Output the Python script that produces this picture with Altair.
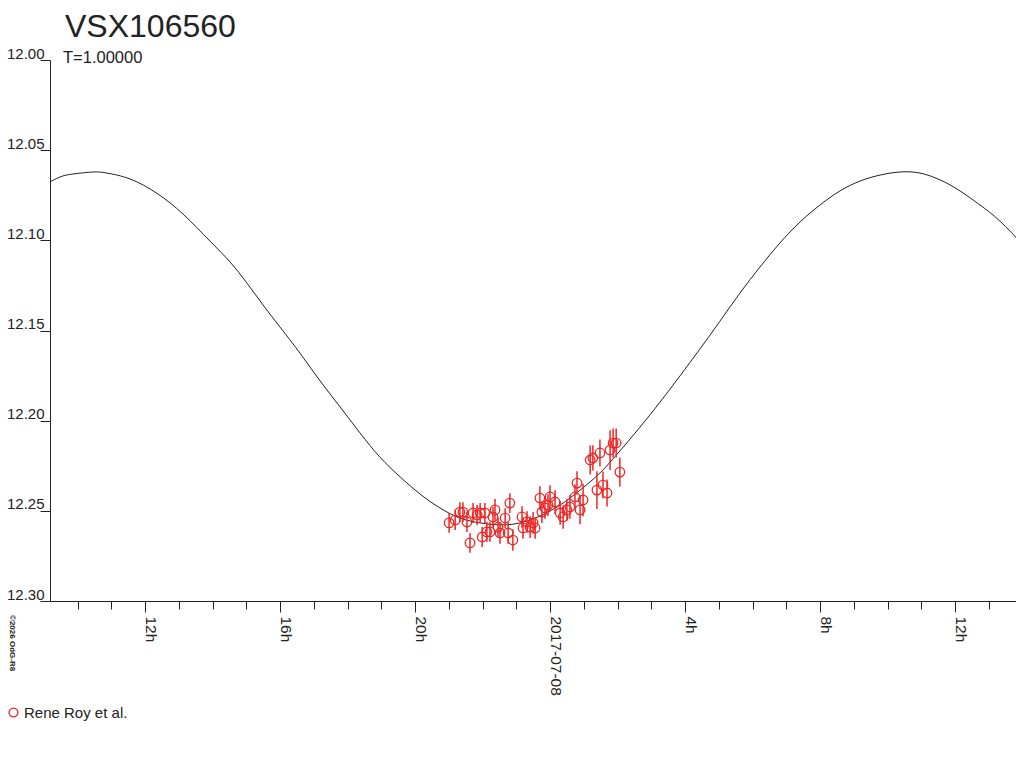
import altair as alt
import pandas as pd

FONT = "Liberation Sans, Arial, Helvetica, sans-serif"
RED = "#f02424"
INK = "#222222"

# model light curve (hours since 2017-07-07 00:00, magnitude)
curve_hour = [9.07, 9.48, 9.87, 10.46, 10.87, 11.56, 12.36, 13.13, 13.93, 14.52,
              15.02, 15.50, 16.00, 16.59, 17.19, 17.78, 18.37, 18.96, 19.56, 20.15,
              20.74, 21.33, 21.93, 22.52, 23.11, 23.70, 24.30, 24.89, 25.48, 26.07,
              26.67, 27.26, 27.85, 28.44, 29.04, 29.63, 30.22, 30.81, 31.41, 32.00,
              32.59, 33.19, 33.78, 34.37, 34.96, 35.56, 36.15, 36.74, 37.33, 38.04]
curve_mag = [12.0688, 12.0649, 12.0632, 12.0621, 12.0627, 12.0660, 12.0740, 12.0855, 12.1005, 12.1120,
             12.1237, 12.1359, 12.1481, 12.1625, 12.1780, 12.1924, 12.2068, 12.2202, 12.2312, 12.2407,
             12.2484, 12.2540, 12.2567, 12.2578, 12.2567, 12.2529, 12.2468, 12.2385, 12.2290, 12.2168,
             12.2035, 12.1897, 12.1752, 12.1603, 12.1447, 12.1292, 12.1148, 12.1015, 12.0898, 12.0804,
             12.0726, 12.0671, 12.0638, 12.0621, 12.0627, 12.0665, 12.0726, 12.0804, 12.0893, 12.1031]

# observations
obs_hour = [21.01, 21.19, 21.33, 21.42, 21.54, 21.63, 21.72, 21.84, 21.93, 21.99,
            22.07, 22.13, 22.22, 22.31, 22.37, 22.46, 22.52, 22.67, 22.76, 22.81,
            22.90, 23.17, 23.20, 23.32, 23.41, 23.50, 23.56, 23.70, 23.76, 23.85,
            23.94, 24.00, 24.15, 24.30, 24.39, 24.50, 24.59, 24.74, 24.80, 24.89,
            24.98, 25.19, 25.27, 25.39, 25.48, 25.57, 25.69, 25.78, 25.87, 25.96,
            26.07]
obs_mag = [12.2567, 12.2551, 12.2507, 12.2507, 12.2562, 12.2678, 12.2512, 12.2523, 12.2512, 12.2645,
           12.2512, 12.2617, 12.2617, 12.2534, 12.2495, 12.2590, 12.2623, 12.2540, 12.2623, 12.2457,
           12.2662, 12.2534, 12.2595, 12.2562, 12.2590, 12.2567, 12.2595, 12.2429, 12.2507, 12.2484,
           12.2468, 12.2423, 12.2451, 12.2512, 12.2534, 12.2495, 12.2479, 12.2423, 12.2346, 12.2495,
           12.2440, 12.2218, 12.2207, 12.2385, 12.2179, 12.2357, 12.2401, 12.2163, 12.2124, 12.2124,
           12.2285]
obs_err = [0.0055, 0.0055, 0.0055, 0.0055, 0.0055, 0.0055, 0.0055, 0.0055, 0.0055, 0.0055,
           0.0055, 0.0055, 0.0055, 0.0055, 0.0060, 0.0055, 0.0060, 0.0055, 0.0060, 0.0055,
           0.0060, 0.0060, 0.0060, 0.0060, 0.0060, 0.0060, 0.0060, 0.0065, 0.0060, 0.0060,
           0.0060, 0.0065, 0.0065, 0.0065, 0.0065, 0.0060, 0.0065, 0.0070, 0.0065, 0.0080,
           0.0090, 0.0080, 0.0070, 0.0105, 0.0075, 0.0075, 0.0075, 0.0110, 0.0080, 0.0080,
           0.0080]
observer = "Rene Roy et al."

star_name = "VSX106560"
period_text = "T=1.00000"
copyright_text = "\u00a92026 OdG-R8"
date_label = "2017-07-08"
y_ticks = [12.00, 12.05, 12.10, 12.15, 12.20, 12.25, 12.30]
x_ticks = list(range(10, 38))

curve_df = pd.DataFrame({"hour": curve_hour, "mag": curve_mag})
obs_df = pd.DataFrame({"hour": obs_hour, "mag": obs_mag, "err": obs_err})
obs_df["observer"] = observer
obs_df["lo"] = obs_df["mag"] - obs_df["err"]
obs_df["hi"] = obs_df["mag"] + obs_df["err"]

x_scale = alt.Scale(domain=[9.185, 37.807], nice=False, zero=False)
y_scale = alt.Scale(domain=[12.0, 12.3], reverse=True, nice=False, zero=False)

x_axis = alt.Axis(
    values=x_ticks, title=None, grid=False,
    tickSize={"condition": {"test": "datum.value % 4 === 0", "value": 11}, "value": 8},
    labelExpr=("datum.value % 4 === 0 ? (datum.value === 24 ? '" + date_label +
               "' : (datum.value % 24) + 'h') : ''"),
    labelAngle=90, labelAlign="left", labelBaseline="alphabetic", labelPadding=4,
    labelFlush=False, labelOverlap=False, labelFontSize=15.5,
)
y_axis = alt.Axis(
    values=y_ticks, format=".2f", title=None, grid=False, tickSize=10,
    labelPadding=-4, labelBaseline="alphabetic", labelOffset=-2, labelFontSize=15,
    labelOverlap=False, labelFlush=False,
)

x_enc = alt.X("hour:Q", scale=x_scale, axis=x_axis)
y_enc = alt.Y("mag:Q", scale=y_scale, axis=y_axis)

curve = alt.Chart(curve_df).mark_line(
    color=INK, strokeWidth=1, clip=True, interpolate="natural"
).encode(x=x_enc, y=y_enc)

bars = alt.Chart(obs_df).mark_rule(color=RED, strokeWidth=1.5).encode(
    x=alt.X("hour:Q", scale=x_scale, axis=x_axis),
    y=alt.Y("lo:Q", scale=y_scale, axis=y_axis),
    y2="hi:Q",
)

points = alt.Chart(obs_df).mark_point(
    shape="circle", filled=False, size=90, strokeWidth=1.3, opacity=1
).encode(
    x=x_enc, y=y_enc,
    color=alt.Color(
        "observer:N", scale=alt.Scale(range=[RED]),
        legend=alt.Legend(
            title=None, orient="none", legendX=-44, legendY=645, padding=0,
            labelFontSize=15, labelColor=INK, labelFont=FONT, labelOffset=3,
            symbolType="circle", symbolSize=80, symbolStrokeWidth=1.3,
            symbolFillColor="transparent",
        ),
    ),
)

one = alt.Data(values=[{}])
title_txt = alt.Chart(one).mark_text(
    text=star_name, fontSize=32, font=FONT, color=INK, align="left", baseline="alphabetic"
).encode(x=alt.value(15), y=alt.value(-23))
sub_txt = alt.Chart(one).mark_text(
    text=period_text, fontSize=16.5, font=FONT, color=INK, align="left", baseline="alphabetic"
).encode(x=alt.value(13), y=alt.value(3))
copy_txt = alt.Chart(one).mark_text(
    text=copyright_text, fontSize=8, fontWeight="bold", font=FONT, color=INK,
    angle=90, align="left", baseline="bottom"
).encode(x=alt.value(-42), y=alt.value(555))

chart = alt.layer(curve, bars, points, title_txt, sub_txt, copy_txt).properties(
    width=966, height=541,
    autosize=alt.AutoSizeParams(type="none"),
    padding={"left": 42, "top": 52, "right": 0, "bottom": 150},
).configure_view(stroke=None).configure_axis(
    domainColor=INK, tickColor=INK, labelColor=INK, labelFont=FONT,
    domainWidth=1, tickWidth=1,
)

chart.save("out.html", embed_options={"renderer": "svg", "actions": False})
